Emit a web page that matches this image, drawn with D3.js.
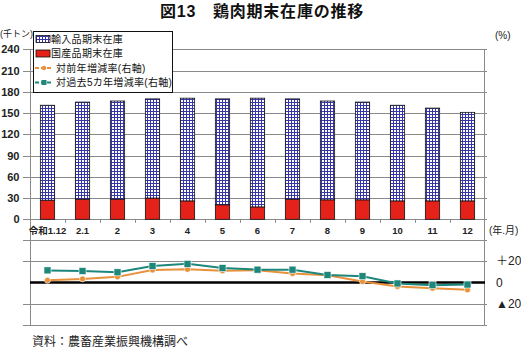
<!DOCTYPE html>
<html>
<head>
<meta charset="utf-8">
<script src="https://cdn.jsdelivr.net/npm/d3@7"></script>
<style>
  body { margin: 0; background: #fff; }
  svg { font-family: "Liberation Sans", "Noto Sans CJK JP", sans-serif; }
</style>
</head>
<body>
<div id="chart"></div>
<script>
const categories = ['令和1.12', '2.1', '2', '3', '4', '5', '6', '7', '8', '9', '10', '11', '12'];
const imported = [134, 137, 138.5, 140, 145, 149.5, 153.5, 141.5, 139.5, 138, 135, 131, 125];
const domestic = [27, 28.5, 28.5, 30, 26, 20.5, 17.5, 28.5, 27.5, 27.5, 26, 26, 26];
const yoyRate = [2.1, 3.4, 5.3, 11.8, 12.4, 11.1, 11.5, 8.4, 6.8, 0.9, -3.7, -5.3, -6.9];
const fiveYearRate = [11.4, 10.8, 9.6, 15.5, 17.6, 13.6, 12.1, 12.1, 7.1, 5.9, -0.9, -2.5, -1.9];
const leftTicks = [0, 30, 60, 90, 120, 150, 180, 210, 240];
const rateTicks = [-40, -20, 0, 20, 40];
const rateLabels = {'20': '＋20', '0': '0', '-20': '▲20'};
const legendItems = ['輸入品期末在庫', '国産品期末在庫', '対前年増減率(右軸)', '対過去5カ年増減率(右軸)'];

const W = 521, H = 351;
const left = 30, right = 484;
const orange = '#e8913a', teal = '#1d877c', red = '#e52219';

const svg = d3.select('#chart').append('svg')
  .attr('width', W).attr('height', H);

// hatch for imported stock
const pat = svg.append('defs').append('pattern')
  .attr('id', 'grid').attr('patternUnits', 'userSpaceOnUse')
  .attr('width', 3).attr('height', 3);
pat.append('rect').attr('width', 3).attr('height', 3).attr('fill', '#fff');
pat.append('path').attr('d', 'M0,0.5H3M0.5,0V3')
  .attr('stroke', '#3636a8').attr('stroke-width', 1);

const x = d3.scaleBand().domain(categories).range([left, right + 1]).padding(0);
const y = d3.scaleLinear().domain([0, 240]).range([219.3, 49.3]);
const yr = d3.scaleLinear().domain([-40, 40]).range([325, 240]);
const cx = d => x(d) + x.bandwidth() / 2;

// title
svg.append('text')
  .attr('x', 262).attr('y', 17)
  .attr('text-anchor', 'middle')
  .style('font-size', '16px').style('font-weight', 'bold')
  .style('letter-spacing', '0.8px')
  .attr('fill', '#111')
  .text('図13　鶏肉期末在庫の推移');

// gridlines, top
svg.append('g').selectAll('line').data(leftTicks).join('line')
  .attr('x1', 23).attr('x2', 487)
  .attr('y1', d => Math.round(y(d)) + 0.5).attr('y2', d => Math.round(y(d)) + 0.5)
  .attr('stroke', '#8a8a8a');

svg.append('g').selectAll('text').data(leftTicks).join('text')
  .attr('x', 19.5).attr('y', d => y(d) + 4)
  .attr('text-anchor', 'end')
  .style('font-size', '11px').style('font-weight', 'bold')
  .attr('fill', '#222')
  .text(d => d);

// gridlines, bottom
svg.append('g').selectAll('line').data(rateTicks.filter(d => d !== 0)).join('line')
  .attr('x1', 23).attr('x2', 487)
  .attr('y1', d => Math.round(yr(d)) + 0.5).attr('y2', d => Math.round(yr(d)) + 0.5)
  .attr('stroke', '#8a8a8a');

svg.append('g').selectAll('text').data(rateTicks.filter(d => rateLabels[d])).join('text')
  .attr('x', 496).attr('y', d => yr(d) + 4)
  .style('font-size', '12px')
  .attr('fill', '#222')
  .text(d => rateLabels[d]);

// axes verticals
[left, right].forEach(v => {
  svg.append('line')
    .attr('x1', v + 0.5).attr('x2', v + 0.5)
    .attr('y1', y(240)).attr('y2', yr(-40))
    .attr('stroke', '#8a8a8a');
});

// category ticks
svg.append('g').selectAll('line').data(categories.slice(1)).join('line')
  .attr('x1', d => Math.round(x(d)) + 0.5).attr('x2', d => Math.round(x(d)) + 0.5)
  .attr('y1', y(0)).attr('y2', y(0) + 3.5)
  .attr('stroke', '#8a8a8a');

svg.append('g').selectAll('text').data(categories).join('text')
  .attr('x', d => cx(d)).attr('y', 234)
  .attr('text-anchor', 'middle')
  .style('font-size', '9.5px').style('font-weight', 'bold')
  .attr('fill', '#222')
  .text(d => d);

svg.append('text').attr('x', 489).attr('y', 234)
  .style('font-size', '10px').attr('fill', '#222').text('(年.月)');
svg.append('text').attr('x', 495).attr('y', 39)
  .style('font-size', '10px').attr('fill', '#222').text('(%)');
svg.append('text').attr('x', 0).attr('y', 37)
  .style('font-size', '9px').attr('fill', '#222').text('(千トン)');

// stacked bars
const bw = 14.3;
const bars = svg.append('g');
bars.selectAll('.dom').data(categories).join('rect')
  .attr('class', 'dom')
  .attr('x', d => cx(d) - bw / 2)
  .attr('y', (d, i) => y(domestic[i]))
  .attr('width', bw)
  .attr('height', (d, i) => y(0) - y(domestic[i]))
  .attr('fill', red).attr('stroke', '#111').attr('stroke-width', 0.8);
bars.selectAll('.imp').data(categories).join('rect')
  .attr('class', 'imp')
  .attr('x', d => cx(d) - bw / 2)
  .attr('y', (d, i) => y(domestic[i] + imported[i]))
  .attr('width', bw)
  .attr('height', (d, i) => y(domestic[i]) - y(domestic[i] + imported[i]))
  .attr('fill', 'url(#grid)').attr('stroke', '#111').attr('stroke-width', 0.8);

// zero line of rate panel
svg.append('line')
  .attr('x1', left).attr('x2', right + 1)
  .attr('y1', yr(0)).attr('y2', yr(0))
  .attr('stroke', '#000').attr('stroke-width', 2.5);

// rate lines
const line = d3.line().x((d, i) => cx(categories[i])).y(d => yr(d));
svg.append('path').datum(yoyRate)
  .attr('d', line).attr('fill', 'none')
  .attr('stroke', orange).attr('stroke-width', 2);
svg.append('g').selectAll('circle').data(yoyRate).join('circle')
  .attr('cx', (d, i) => cx(categories[i])).attr('cy', d => yr(d))
  .attr('r', 3).attr('fill', orange).attr('stroke', '#fff').attr('stroke-width', 0.6);

svg.append('path').datum(fiveYearRate)
  .attr('d', line).attr('fill', 'none')
  .attr('stroke', teal).attr('stroke-width', 2);
svg.append('g').selectAll('rect').data(fiveYearRate).join('rect')
  .attr('x', (d, i) => cx(categories[i]) - 3.5).attr('y', d => yr(d) - 3.5)
  .attr('width', 7).attr('height', 7)
  .attr('fill', teal).attr('stroke', '#fff').attr('stroke-width', 0.6);

// legend
const lg = svg.append('g');
lg.append('rect')
  .attr('x', 33.5).attr('y', 31.5).attr('width', 139).attr('height', 61)
  .attr('fill', '#fff').attr('stroke', '#111');
const rowY = [39, 53.5, 68, 82.5];
lg.append('rect').attr('x', 36).attr('y', rowY[0] - 3.5).attr('width', 14).attr('height', 7)
  .attr('fill', 'url(#grid)').attr('stroke', '#111').attr('stroke-width', 0.8);
lg.append('rect').attr('x', 36).attr('y', rowY[1] - 3.5).attr('width', 14).attr('height', 7)
  .attr('fill', red).attr('stroke', '#111').attr('stroke-width', 0.8);
lg.append('line').attr('x1', 35).attr('x2', 53).attr('y1', rowY[2]).attr('y2', rowY[2])
  .attr('stroke', orange).attr('stroke-width', 2).attr('stroke-dasharray', '4,2');
lg.append('circle').attr('cx', 44).attr('cy', rowY[2]).attr('r', 2.2).attr('fill', orange);
lg.append('line').attr('x1', 35).attr('x2', 53).attr('y1', rowY[3]).attr('y2', rowY[3])
  .attr('stroke', teal).attr('stroke-width', 2).attr('stroke-dasharray', '4,2');
lg.append('rect').attr('x', 41.5).attr('y', rowY[3] - 2.5).attr('width', 5).attr('height', 5).attr('fill', teal);
lg.selectAll('text').data(legendItems).join('text')
  .attr('x', (d, i) => i < 2 ? 51 : 56).attr('y', (d, i) => rowY[i] + 3.5)
  .style('font-size', '10px').style('letter-spacing', '0.3px')
  .attr('fill', '#111')
  .text(d => d);

// source
svg.append('text').attr('x', 32).attr('y', 346)
  .style('font-size', '12px').attr('fill', '#222')
  .text('資料：農畜産業振興機構調べ');
</script>
</body>
</html>
